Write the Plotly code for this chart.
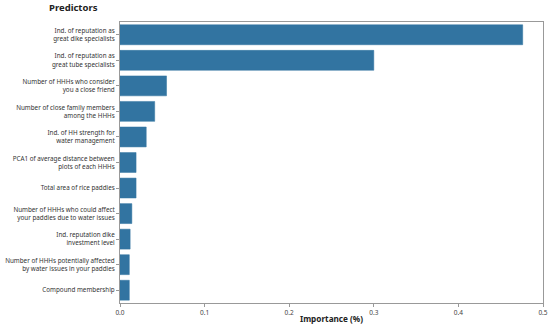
import plotly.graph_objects as go

predictors = [
    "Ind. of reputation as<br>great dike specialists",
    "Ind. of reputation as<br>great tube specialists",
    "Number of HHHs who consider<br>you a close friend",
    "Number of close family members<br>among the HHHs",
    "Ind. of HH strength for<br>water management",
    "PCA1 of average distance between<br>plots of each HHHs",
    "Total area of rice paddies",
    "Number of HHHs who could affect<br>your paddies due to water issues",
    "Ind. reputation dike<br>investment level",
    "Number of HHHs potentially affected<br>by water issues in your paddies",
    "Compound membership",
]
importance = [0.476, 0.300, 0.055, 0.041, 0.031, 0.019, 0.019, 0.014, 0.012, 0.011, 0.011]
x_ticks = [0.0, 0.1, 0.2, 0.3, 0.4, 0.5]
x_tick_labels = ["0.0", "0.1", "0.2", "0.3", "0.4", "0.5"]

fig = go.Figure(go.Bar(
    x=importance, y=predictors, orientation="h",
    marker=dict(color="#3274a1", line=dict(color="#3274a1", width=0.5)),
    width=0.78,
))

fig.update_layout(
    width=550, height=328,
    margin=dict(l=120, r=7, t=22, b=25),
    plot_bgcolor="white", paper_bgcolor="white",
    font=dict(family="Noto Sans", size=6.3, color="#333333"),
    showlegend=False,
    annotations=[
        dict(text="<b>Predictors</b>", x=(73 - 120) / 423, y=1 + (22 - 7) / 281,
             xref="paper", yref="paper",
             showarrow=False, font=dict(size=9.5, color="#222222"),
             xanchor="center", yanchor="middle"),
    ],
)

fig.update_xaxes(
    range=[0, 0.5], tickvals=x_ticks, ticktext=x_tick_labels,
    showline=True, linecolor="#999999", linewidth=1, mirror=True,
    ticks="outside", ticklen=3, tickcolor="#999999",
    showgrid=False, zeroline=False, automargin=False,
    tickfont=dict(size=6.5, color="#444444"),
    title=dict(text="<b>Importance (%)</b>", font=dict(size=8.2, color="#222222"), standoff=0),
)
fig.update_yaxes(
    autorange=False, range=[10.5, -0.5],
    showline=True, linecolor="#999999", linewidth=1, mirror=True,
    ticks="outside", ticklen=3, tickcolor="#999999",
    showgrid=False, zeroline=False, automargin=False,
    tickfont=dict(size=6.3, color="#333333"),
)

fig.write_html(
    "out.html",
    config={"displayModeBar": False},
    post_script="document.body.style.margin='0';document.body.style.overflow='hidden';",
)
